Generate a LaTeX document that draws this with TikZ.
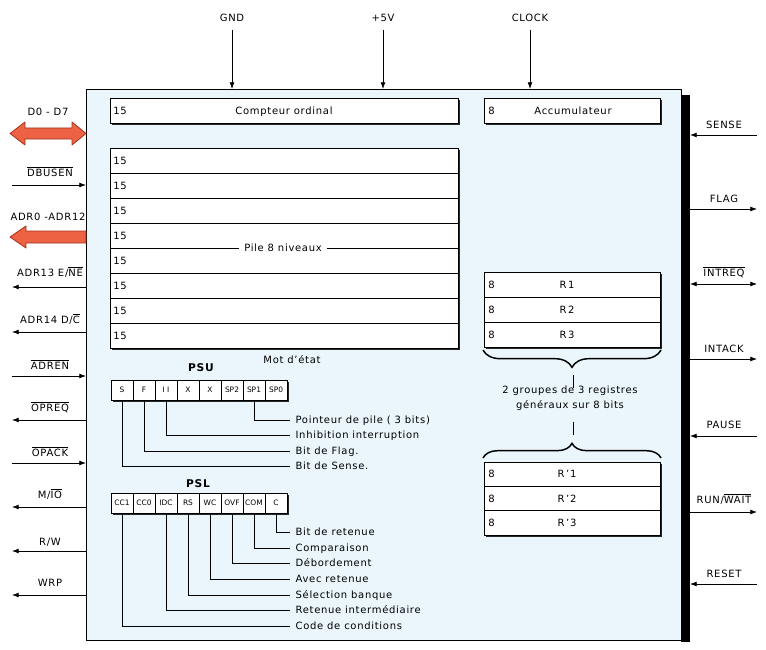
\documentclass[tikz,border=0pt]{standalone}
\usepackage{fontspec}
\setmainfont[LetterSpace=7]{DejaVu Sans}
\newfontfamily\cellfont{DejaVu Sans}
\usetikzlibrary{arrows.meta,decorations.pathreplacing}
\definecolor{boxbg}{RGB}{234,246,251}
\definecolor{busfill}{RGB}{236,98,66}
\definecolor{busdraw}{RGB}{165,50,30}
\newcommand\ovl[1]{$\overline{\hbox{#1}}$}
\newcommand\shbox[4]{\fill[black!85] (#1+1.8,#2+1.8) rectangle (#3+1.8,#4+1.8); \draw[regbox] (#1,#2) rectangle (#3,#4);}
\newcommand\lsig[5]{\node[lbl] (#1) at (50,#3) {#2}; \coordinate (#1-o) at (12,#4); \coordinate (#1-i) at (86,#4); \draw[#5] (#1-o) -- (#1-i);}
\newcommand\rsig[5]{\node[lbl] (#1) at (724,#3) {#2}; \coordinate (#1-o) at (757,#4); \coordinate (#1-i) at (690,#4); \draw[#5] (#1-o) -- (#1-i);}
\begin{document}
\begin{tikzpicture}[x=0.75pt,y=-0.75pt,
  lbl/.style={font=\fontsize{7.5}{9}\selectfont, inner sep=0pt, text height=5.4pt, text depth=0pt},
  note/.style={font=\fontsize{7.5}{9}\selectfont, inner xsep=4pt, inner ysep=0pt, anchor=west, text height=5.4pt, text depth=0pt},
  cell/.style={draw, fill=white, line width=0.5pt, minimum width=16.5pt, minimum height=15pt, inner sep=0pt, font=\cellfont\fontsize{5.6}{6}\selectfont},
  sigin/.style={-{Latex[length=5pt,width=3.6pt]}, line width=0.55pt},
  sigout/.style={{Latex[length=5pt,width=3.6pt]}-, line width=0.55pt},
  sigboth/.style={{Latex[length=5pt,width=3.6pt]}-{Latex[length=5pt,width=3.6pt]}, line width=0.55pt},
  regbox/.style={draw, fill=white, line width=0.5pt},
  lead/.style={line width=0.45pt},
  bus/.style={fill=busfill, draw=busdraw, line width=0.6pt, line join=round},
  brc/.style={decorate, line width=1.1pt}]
\useasboundingbox (0,0) rectangle (766,649);
% main box
\fill[black] (681,95) rectangle (690,642);
\draw[fill=boxbg, line width=0.6pt] (86,89) rectangle (681,640);
% top signals
\node[lbl] (gnd) at (232,18) {GND};
\coordinate (gnd-a) at (232,30); \coordinate (gnd-b) at (232,89);
\draw[sigin] (gnd-a) -- (gnd-b);
\node[lbl] (vcc) at (383,18) {+5V};
\coordinate (vcc-a) at (383,30); \coordinate (vcc-b) at (383,89);
\draw[sigin] (vcc-a) -- (vcc-b);
\node[lbl] (clk) at (530,18) {CLOCK};
\coordinate (clk-a) at (530,30); \coordinate (clk-b) at (530,89);
\draw[sigin] (clk-a) -- (clk-b);
% bus arrows
\node[lbl] (d07) at (48,112) {D0 - D7};
\draw[bus] (10,133.5) -- (25,122) -- (25,128) -- (72,128) -- (72,122) -- (86,133.5) -- (72,145) -- (72,139) -- (25,139) -- (25,145) -- cycle;
\node[lbl] (adr) at (48,217) {ADR0 -ADR12};
\draw[bus] (10,237) -- (26,226) -- (26,231) -- (86,231) -- (86,243) -- (26,243) -- (26,248) -- cycle;
% left signals
\lsig{dbusen}{\ovl{DBUSEN}}{173}{185}{sigin}
\lsig{adr13}{ADR13 E/\ovl{NE}}{273}{287}{sigout}
\lsig{adr14}{ADR14 D/\ovl{C}}{320}{332}{sigout}
\lsig{adren}{\ovl{ADREN}}{366}{376}{sigin}
\lsig{opreq}{\ovl{OPREQ}}{408}{420}{sigout}
\lsig{opack}{\ovl{OPACK}}{453}{463}{sigin}
\lsig{mio}{M/\ovl{IO}}{495}{507}{sigout}
\lsig{rw}{R/W}{542}{551}{sigout}
\lsig{wrp}{WRP}{583}{595}{sigout}
% right signals
\rsig{sense}{SENSE}{125}{135}{sigin}
\rsig{flag}{FLAG}{199}{209}{sigout}
\rsig{intreq}{\ovl{INTREQ}}{273}{284}{sigboth}
\rsig{intack}{INTACK}{349}{359}{sigout}
\rsig{pause}{PAUSE}{425}{436}{sigin}
\rsig{run}{RUN/\ovl{WAIT}}{500}{512}{sigout}
\rsig{reset}{RESET}{574}{584}{sigin}
% program counter and accumulator
\shbox{110}{98}{458}{123}
\node[lbl, anchor=west] (pc15) at (113,110.5) {15};
\node[lbl] (pc) at (284,110.5) {Compteur ordinal};
\shbox{484}{98}{660}{123}
\node[lbl, anchor=west] (acc8) at (488,110.5) {8};
\node[lbl] (acc) at (573,110.5) {Accumulateur};
% stack
\shbox{110}{148}{458}{348}
\foreach \yy in {173,198,223,248,273,298,323} { \draw[line width=0.5pt] (110,\yy) -- (458,\yy); }
\foreach \k in {0,...,7} { \node[lbl, anchor=west] (st\k) at (113,{160.5+25*\k}) {15}; }
\node[lbl, fill=white, inner xsep=4pt] (pile) at (283,248) {Pile 8 niveaux};
\node[lbl] (mot) at (292,360) {Mot d'état};
% PSU
\node[lbl, font=\bfseries\fontsize{8}{9}\selectfont] (psu) at (201,368) {PSU};
\fill[black!85] (112.8,381.8) rectangle (288.8,401.8);
\foreach \t [count=\i from 0] in {S,F,I I,X,X,SP2,SP1,SP0} { \node[cell] (psu\i) at ({122+22*\i},390) {\t}; }
\node[note] (n-sp) at (290,420) {Pointeur de pile ( 3 bits)};
\node[note] (n-ii) at (290,435) {Inhibition interruption};
\node[note] (n-f) at (290,451) {Bit de Flag.};
\node[note] (n-s) at (290,466) {Bit de Sense.};
\draw[lead] (psu6.south) |- (n-sp.west);
\draw[lead] (psu2.south) |- (n-ii.west);
\draw[lead] (psu1.south) |- (n-f.west);
\draw[lead] (psu0.south) |- (n-s.west);
% PSL
\node[lbl, font=\bfseries\fontsize{8}{9}\selectfont] (psl) at (198,484) {PSL};
\fill[black!85] (112.8,494.8) rectangle (288.8,514.8);
\foreach \t [count=\i from 0] in {CC1,CC0,IDC,RS,WC,OVF,COM,C} { \node[cell] (psl\i) at ({122+22*\i},503) {\t}; }
\node[note] (n-c) at (290,532) {Bit de retenue};
\node[note] (n-com) at (290,548) {Comparaison};
\node[note] (n-ovf) at (290,563) {Débordement};
\node[note] (n-wc) at (290,579) {Avec retenue};
\node[note] (n-rs) at (290,595) {Sélection banque};
\node[note] (n-idc) at (290,610) {Retenue intermédiaire};
\node[note] (n-cc) at (290,626) {Code de conditions};
\draw[lead] (psl7.south) |- (n-c.west);
\draw[lead] (psl6.south) |- (n-com.west);
\draw[lead] (psl5.south) |- (n-ovf.west);
\draw[lead] (psl4.south) |- (n-wc.west);
\draw[lead] (psl3.south) |- (n-rs.west);
\draw[lead] (psl2.south) |- (n-idc.west);
\draw[lead] (psl0.south) |- (n-cc.west);
% registers bank 1
\shbox{484}{272}{660}{347}
\draw[line width=0.5pt] (484,297) -- (660,297) (484,322) -- (660,322);
\foreach \n/\yy in {1/284.5,2/309.5,3/334.5} {
  \node[lbl, anchor=west] (ra\n) at (488,\yy) {8};
  \node[lbl] (r\n) at (567,\yy) {R\,\n};
}
% braces and text
\draw[brc, decoration={brace, amplitude=13pt}] (661,350) -- (483,350);
\node[lbl, align=center, font=\fontsize{7.5}{11.3}\selectfont] (grp) at (570,404.5) {2 groupes de 3 registres\\généraux sur 8 bits};
\coordinate (bt1) at (573,375); \coordinate (bt2) at (573,388);
\coordinate (bb1) at (573,422); \coordinate (bb2) at (573,435);
\draw[line width=0.6pt] (bt1) -- (bt2);
\draw[line width=0.6pt] (bb1) -- (bb2);
\draw[brc, decoration={brace, amplitude=11pt}] (483,458) -- (661,458);
% registers bank 2
\shbox{484}{462}{660}{535}
\draw[line width=0.5pt] (484,486.3) -- (660,486.3) (484,510.7) -- (660,510.7);
\foreach \n/\yy in {1/474.2,2/498.5,3/522.9} {
  \node[lbl, anchor=west] (rb\n) at (488,\yy) {8};
  \node[lbl] (rp\n) at (567,\yy) {R\,'\n};
}
\end{tikzpicture}
\end{document}
